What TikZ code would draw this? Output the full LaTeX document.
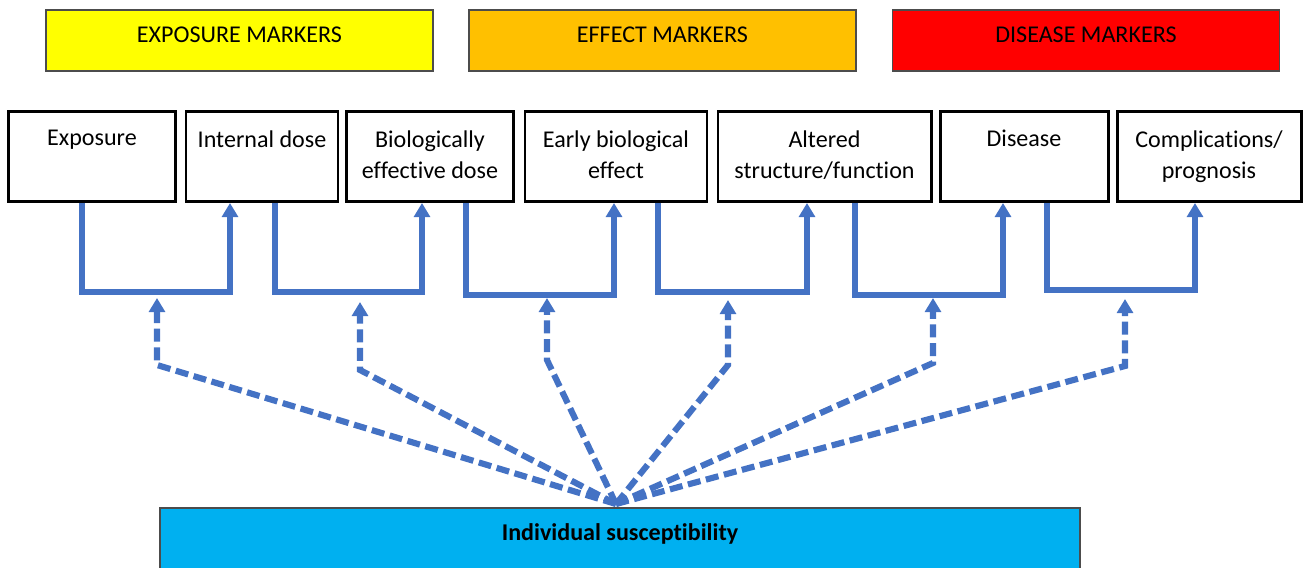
\documentclass[tikz,border=0pt]{standalone}
\usepackage{fontspec}
\setmainfont{Carlito}[Ligatures=NoCommon]
\usetikzlibrary{
    arrows.meta,
    positioning
}
\definecolor{marker yellow}{HTML}{FFFF00}
\definecolor{marker orange}{HTML}{FFC000}
\definecolor{marker red}{HTML}{FF0000}
\definecolor{suscept cyan}{HTML}{00B0F0}
\definecolor{flow blue}{HTML}{4472C4}
\tikzset{
    % Colors
    exposure color/.style={fill=marker yellow},
    effect color/.style={fill=marker orange},
    disease color/.style={fill=marker red},
    %
    % Boxes
    marker box/.style={draw=black!70,line width=0.6pt,inner sep=0pt,minimum width=387*0.02cm,minimum height=61*0.02cm},
    stage box/.style={draw=black,line width=1.7pt,inner sep=0pt,minimum width=#1*0.02cm,minimum height=90*0.02cm},
    stage text/.style={align=center,inner sep=0pt},
    suscept box/.style={draw=black!70,line width=0.6pt,fill=suscept cyan,inner sep=0pt,minimum width=920*0.02cm,minimum height=70*0.02cm},
    %
    % Arrows
    arrow tip/.tip={Triangle[width=9pt,length=8pt]},
    flow arrow/.style={->,>={arrow tip},flow blue,line width=3.2pt},
    suscept arrow/.style={->,>={arrow tip},flow blue,line width=3.5pt,dash pattern=on 7.4pt off 3.2pt}
}
\tikzstyle{every node}=[font=\fontsize{13.7}{18}\selectfont]

\begin{document}
\begin{tikzpicture}[x=0.02cm,y=-0.02cm]
        \useasboundingbox (0,0) rectangle (1313,568);
        % Marker groups
        \node[marker box,exposure color] (exposure markers) at (239.5,40.5) {};
        \node (exposure markers text) at (239.5,34.5) {EXPOSURE MARKERS};
        \node[marker box,effect color] (effect markers) at (662.5,40.5) {};
        \node (effect markers text) at (662.5,34.5) {EFFECT MARKERS};
        \node[marker box,disease color] (disease markers) at (1086,40.5) {};
        \node (disease markers text) at (1086,34.5) {DISEASE MARKERS};
        % Stages
        \node[stage box=167] (exposure) at (92,156.5) {};
        \node[stage text,below=0.4cm of exposure.north] (exposure text) {Exposure};
        \node[stage box=152] (internal) at (262,156.5) {};
        \node[stage text,below=0.4cm of internal.north] (internal text) {Internal dose};
        \node[stage box=167] (biological) at (430,156.5) {};
        \node[stage text,below=0.4cm of biological.north] (biological text) {Biologically\\effective dose};
        \node[stage box=182] (early) at (616,156.5) {};
        \node[stage text,below=0.4cm of early.north] (early text) {Early biological\\effect};
        \node[stage box=213] (altered) at (824.5,156.5) {};
        \node[stage text,below=0.4cm of altered.north] (altered text) {Altered\\structure/function};
        \node[stage box=168] (disease) at (1024,156.5) {};
        \node[stage text,below=0.4cm of disease.north] (disease text) {Disease};
        \node[stage box=184] (complications) at (1209,156.5) {};
        \node[stage text,below=0.4cm of complications.north] (complications text) {Complications/\\prognosis};
        % Solid connectors between stages
        \foreach \from/\to/\xa/\xb/\yh in {exposure/internal/82/230/292,internal/biological/275/422/292,biological/early/466/614/295,early/altered/658/807/292,altered/disease/855/1003/295,disease/complications/1047/1195/290}{
            \coordinate (bend a) at (\xa,\yh);
            \coordinate (bend b) at (\xb,\yh);
            \draw[flow arrow] (\from.south -| bend a) -- (bend a) -- (bend b) -- (\to.south -| bend b);
        }
        % Individual susceptibility
        \node[suscept box] (susceptibility) at (620,543) {};
        \node (susceptibility text) at (620,534) {\bfseries Individual susceptibility};
        \coordinate (hub) at (616,504);
        \foreach \x/\yb/\yt in {157/365/298,360/370/302,547/360/298,728/365/300,933/363/298,1125/366/299}{
            \draw[suscept arrow] (hub) -- (\x,\yb) -- (\x,\yt);
        }
    \end{tikzpicture}
\end{document}
